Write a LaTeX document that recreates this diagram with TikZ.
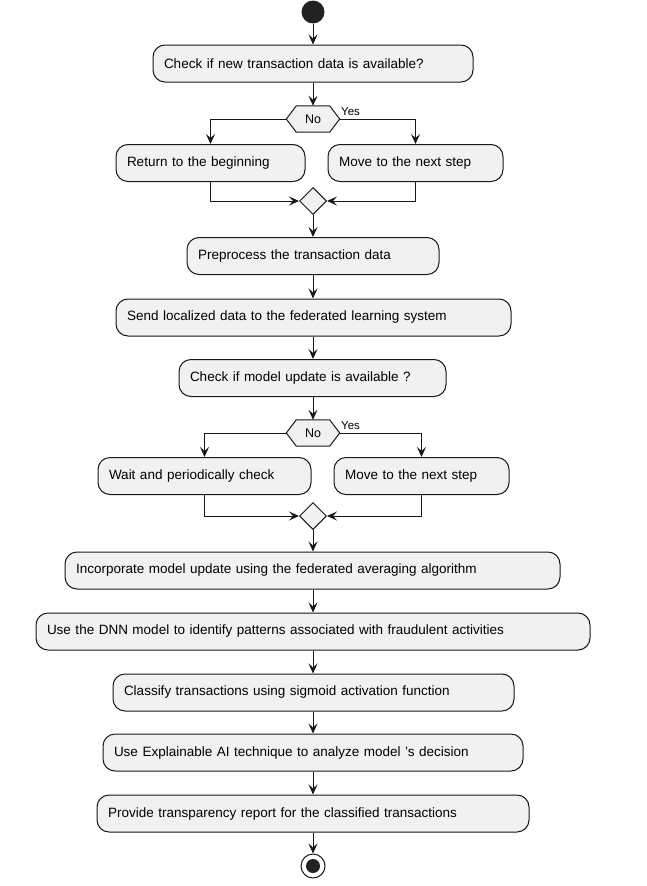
\documentclass[tikz,border=0pt]{standalone}
\usepackage{fontspec}
\setmainfont{Liberation Sans}
\usetikzlibrary{arrows.meta,shapes.geometric,calc,backgrounds}
\definecolor{boxfill}{HTML}{F1F1F1}
\definecolor{linec}{HTML}{181818}
\definecolor{dotc}{HTML}{222222}
\begin{document}
\begin{tikzpicture}[x=1pt,y=-1pt,
  act/.style={draw=linec, fill=boxfill, line width=1pt, rounded corners=12pt,
    minimum height=37pt, inner xsep=11pt, inner ysep=0pt, align=left,
    font=\fontsize{13.5}{16}\selectfont},
  arr/.style={draw=linec, line width=1pt, -{Stealth[length=10pt,width=9pt,inset=4pt]}},
  ln/.style={draw=linec, line width=1pt},
  hexn/.style={minimum width=53pt, minimum height=26pt, inner sep=0pt,
    font=\fontsize{12.5}{14}\selectfont},
  hexs/.style={draw=linec, fill=boxfill, line width=1pt},
  mrg/.style={diamond, draw=linec, fill=boxfill, line width=1pt,
    minimum width=27pt, minimum height=27pt, inner sep=0pt},
  lbl/.style={inner sep=0pt, font=\fontsize{11.5}{13}\selectfont}
]
\useasboundingbox (0,0) rectangle (647,886);

\node[circle, fill=dotc, minimum size=23pt, inner sep=0pt] (start) at (313,12) {};
\node[act, text width=298pt] (b1) at (313,63.5) {Check if new transaction data is available?};
\node[hexn] (h1) at (313,119) {No};
\node[lbl, anchor=base west] (y1) at (341,115) {Yes};
\node[act, text width=167pt] (ret) at (210.5,163) {Return to the beginning};
\node[act, text width=153pt] (mv1) at (415.5,163) {Move to the next step};
\node[mrg] (m1) at (313,201) {};
\node[act, text width=230pt] (pre) at (313,256) {Preprocess the transaction data};
\node[act, text width=373pt] (send) at (313.5,317.5) {Send localized data to the federated learning system};
\node[act, text width=245pt] (chk) at (312.5,378) {Check if model update is available ?};
\node[hexn] (h2) at (313,433) {No};
\node[lbl, anchor=base west] (y2) at (341,429) {Yes};
\node[act, text width=191pt] (wait) at (204.5,476) {Wait and periodically check};
\node[act, text width=153pt] (mv2) at (421.5,476) {Move to the next step};
\node[mrg] (m2) at (313,516) {};
\node[act, text width=473pt] (inc) at (312.5,570.5) {Incorporate model update using the federated averaging algorithm};
\node[act, text width=532pt] (dnn) at (313,631.5) {Use the DNN model to identify patterns associated with fraudulent activities};
\node[act, text width=379pt] (cls) at (313.5,692.5) {Classify transactions using sigmoid activation function};
\node[act, text width=398pt] (xai) at (313,752.5) {Use Explainable AI technique to analyze model 's decision};
\node[act, text width=410pt] (prov) at (313,813.5) {Provide transparency report for the classified transactions};
\node[circle, draw=linec, line width=1pt, minimum size=24pt, inner sep=0pt] (end) at (313,866) {};
\node[circle, fill=dotc, minimum size=14pt, inner sep=0pt] (endin) at (end) {};

\begin{scope}[on background layer]
\foreach \h in {h1,h2}{
  \draw[hexs] (\h.west) -- ($(\h.north west)+(10,0)$) -- ($(\h.north east)+(-10,0)$)
    -- (\h.east) -- ($(\h.south east)+(-10,0)$) -- ($(\h.south west)+(10,0)$) -- cycle;
}
\end{scope}

\draw[arr] (start) -- (b1);
\draw[arr] (b1) -- (h1);
\draw[arr] (h1.west) -| (ret.north);
\draw[arr] (h1.east) -| (mv1.north);
\draw[arr] (ret.south) |- (m1.west);
\draw[arr] (mv1.south) |- (m1.east);
\draw[arr] (m1) -- (pre);
\draw[arr] (pre) -- (send.north -| pre.south);
\draw[arr] (send.south -| pre.south) -- (chk.north -| pre.south);
\draw[arr] (chk.south -| h2.north) -- (h2.north);
\draw[arr] (h2.west) -| (wait.north);
\draw[arr] (h2.east) -| (mv2.north);
\draw[arr] (wait.south) |- (m2.west);
\draw[arr] (mv2.south) |- (m2.east);
\draw[arr] (m2) -- (inc.north -| m2.south);
\draw[arr] (inc.south -| m2.south) -- (dnn.north -| m2.south);
\draw[arr] (dnn.south -| m2.south) -- (cls.north -| m2.south);
\draw[arr] (cls.south -| m2.south) -- (xai.north -| m2.south);
\draw[arr] (xai.south -| m2.south) -- (prov.north -| m2.south);
\draw[arr] (prov.south -| m2.south) -- (end);
\end{tikzpicture}
\end{document}
